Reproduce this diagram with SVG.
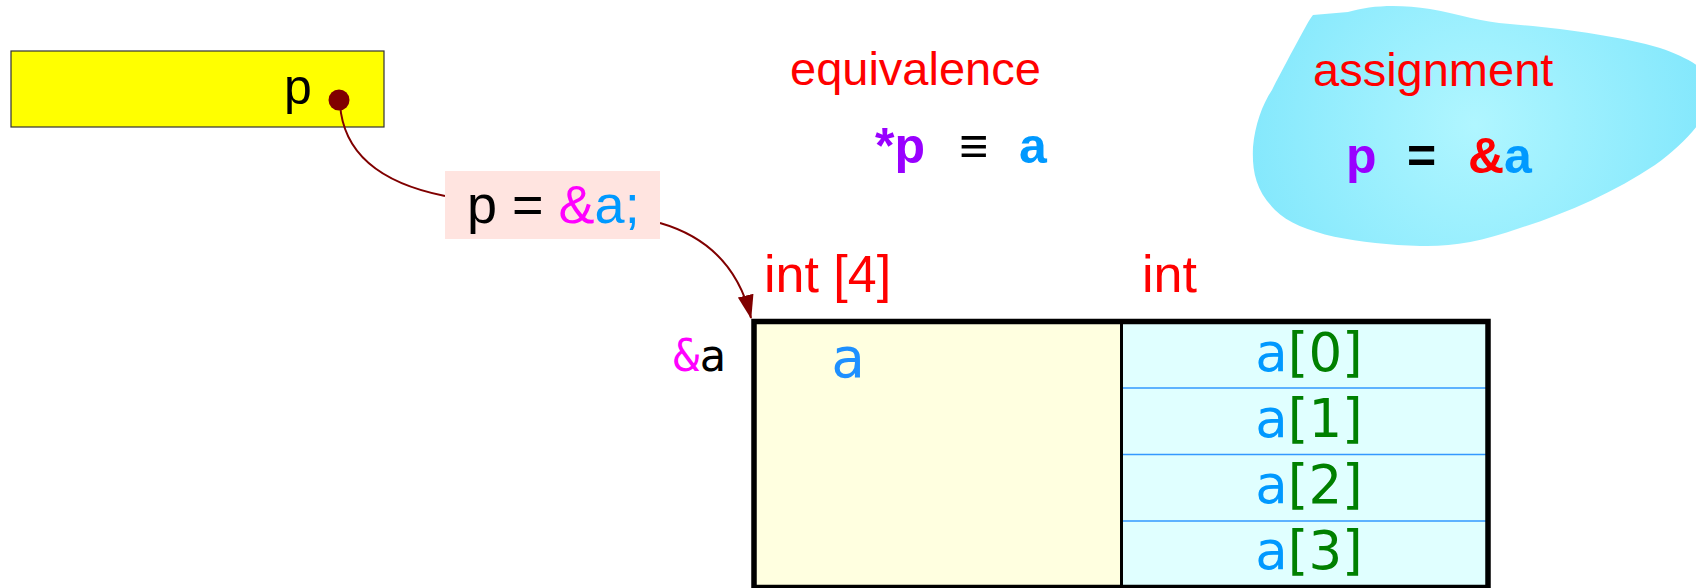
<svg xmlns="http://www.w3.org/2000/svg" width="1696" height="588" viewBox="0 0 1696 588">
<style>
.sans{font-family:"Liberation Sans",Arial,sans-serif}
.bold{font-family:"Liberation Sans",Arial,sans-serif;font-weight:bold}
.dv{font-family:"DejaVu Sans",sans-serif}
.mono{font-family:"DejaVu Sans Mono",monospace}
.red{fill:#ff0000}
.blue{fill:#0099ff}
.purple{fill:#9900ff}
.mag{fill:#ff00ff}
.green{fill:#008000}
.conn{fill:none;stroke:#800000;stroke-width:2}
.row{stroke:#3399ff;stroke-width:1.5}
</style>
<defs>
<radialGradient id="blobg" cx="1475" cy="125" r="260" gradientUnits="userSpaceOnUse">
<stop offset="0" stop-color="#b0f6ff"/>
<stop offset="1" stop-color="#7ee6fc"/>
</radialGradient>
<marker id="arr" markerUnits="userSpaceOnUse" markerWidth="24" markerHeight="18" refX="23" refY="8" orient="auto">
<path d="M0,0 L24,8 L0,16 Z" fill="#800000"/>
</marker>
</defs>
<rect width="1696" height="588" fill="#ffffff"/>

<g id="blob">
<path d="M1313,15 L1348,12 C1370,5 1400,4 1430,9 C1460,14 1480,22 1510,24 C1560,28 1620,36 1660,48 C1690,58 1712,72 1714,88 C1712,112 1690,140 1655,165 C1615,192 1565,214 1520,228 C1480,242 1450,247 1420,246 C1360,244 1300,235 1275,210 C1255,190 1252,170 1253,147 C1255,125 1262,105 1272,90 C1282,70 1292,52 1300,37 C1305,28 1309,20 1313,15 Z" fill="url(#blobg)"/>
<text class="sans red" x="1313" y="86" font-size="47">assignment</text>
<text class="bold" font-size="50" y="173"><tspan class="purple" x="1346">p</tspan><tspan x="1407">=</tspan><tspan class="red" x="1468">&amp;</tspan><tspan class="blue">a</tspan></text>
</g>

<g id="equivalence">
<text class="sans red" x="790" y="85" font-size="47">equivalence</text>
<text class="bold" font-size="50" y="163"><tspan class="purple" x="875">*p</tspan><tspan x="959">≡</tspan><tspan class="blue" x="1019">a</tspan></text>
</g>

<g id="pnode">
<rect x="11" y="51" width="373" height="76" fill="#ffff00" stroke="#333333" stroke-width="1.2"/>
<text class="sans" x="284" y="104" font-size="50">p</text>
<circle cx="339" cy="100" r="10.5" fill="#800000"/>
</g>

<g id="connectors">
<path class="conn" d="M340,104 C343,150 375,182 445,196"/>
<path class="conn" d="M660,223 C712,238 740,272 751,318" marker-end="url(#arr)"/>
</g>

<g id="label">
<rect x="445" y="171" width="215" height="68" fill="#ffe4e0"/>
<text class="sans" x="467" y="223" font-size="54">p = <tspan class="mag">&amp;</tspan><tspan class="blue">a;</tspan></text>
</g>

<g id="types">
<text class="sans red" x="764" y="292" font-size="52">int [4]</text>
<text class="sans red" x="1142" y="292" font-size="52">int</text>
</g>

<g id="addr">
<text class="mono" x="673" y="371" font-size="44"><tspan class="mag">&amp;</tspan>a</text>
</g>

<g id="table">
<rect x="754" y="321.5" width="367.5" height="266" fill="#ffffe0"/>
<rect x="1121.5" y="321.5" width="366.5" height="266" fill="#e0ffff"/>
<line class="row" x1="1123" y1="388" x2="1486" y2="388"/>
<line class="row" x1="1123" y1="454.5" x2="1486" y2="454.5"/>
<line class="row" x1="1123" y1="521" x2="1486" y2="521"/>
<line x1="1121.5" y1="321.5" x2="1121.5" y2="588" stroke="#000" stroke-width="3"/>
<rect x="754" y="321.5" width="734" height="266" fill="none" stroke="#000" stroke-width="5.5"/>
<text class="mono" x="831" y="377" font-size="56" fill="#1e90ff">a</text>
<g class="dv" font-size="53" text-anchor="middle">
<text x="1309" y="371"><tspan class="blue">a</tspan><tspan class="green">[0]</tspan></text>
<text x="1309" y="437"><tspan class="blue">a</tspan><tspan class="green">[1]</tspan></text>
<text x="1309" y="503"><tspan class="blue">a</tspan><tspan class="green">[2]</tspan></text>
<text x="1309" y="569"><tspan class="blue">a</tspan><tspan class="green">[3]</tspan></text>
</g>
</g>
</svg>
